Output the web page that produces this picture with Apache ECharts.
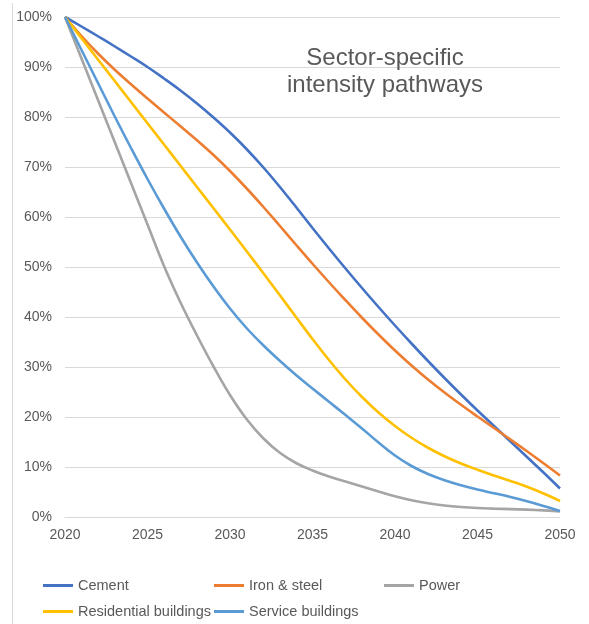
<!DOCTYPE html>
<html>
<head>
    <meta charset="utf-8">
    <title>Sector-specific intensity pathways</title>
    <script src="https://cdn.jsdelivr.net/npm/echarts@6/dist/echarts.min.js"></script>
    <style>
        html, body { margin: 0; padding: 0; background: #fff; }
        #chart { width: 589px; height: 624px; }
    </style>
</head>
<body>
    <div id="chart"></div>
    <script type="text/javascript">
        // values, % of 2020 intensity
        var years = [2020, 2021, 2022, 2023, 2024, 2025, 2026, 2027, 2028, 2029, 2030,
                     2031, 2032, 2033, 2034, 2035, 2036, 2037, 2038, 2039, 2040,
                     2041, 2042, 2043, 2044, 2045, 2046, 2047, 2048, 2049, 2050];
        var cement = [100, 98.1, 96.15, 94.15, 92.1, 90, 87.7, 85.3, 82.7, 79.9, 76.9,
                      73.6, 70.0, 66.1, 62.0, 57.8, 53.7, 49.7, 45.8, 42.0, 38.3,
                      34.7, 31.2, 27.8, 24.5, 21.3, 18.2, 15.1, 12.0, 8.9, 5.7];
        var ironSteel = [100, 96.2, 92.7, 89.5, 86.55, 83.7, 80.9, 78.15, 75.35, 72.4, 69.2,
                         65.75, 62.1, 58.3, 54.45, 50.65, 46.95, 43.35, 39.85, 36.5, 33.3,
                         30.3, 27.5, 24.9, 22.45, 20.1, 17.8, 15.5, 13.15, 10.75, 8.3];
        var power = [100, 91.7, 83.4, 75.1, 66.8, 58.5, 50.2, 42.9, 36.3, 30.1, 24.4,
                     19.6, 15.8, 12.9, 10.8, 9.3, 8.1, 7.1, 6.1, 5.1, 4.15,
                     3.35, 2.75, 2.3, 2.0, 1.8, 1.68, 1.58, 1.48, 1.33, 1.13];
        var residential = [100, 95.75, 91.5, 87.25, 83, 78.75, 74.5, 70.25, 66, 61.75, 57.5,
                           53.2, 48.85, 44.45, 40.0, 35.6, 31.4, 27.5, 24.0, 20.9, 18.2,
                           15.85, 13.85, 12.15, 10.7, 9.45, 8.3, 7.2, 6.05, 4.7, 3.2];
        var service = [100, 93.4, 86.8, 80.2, 73.8, 67.6, 61.7, 56.1, 50.9, 46.1, 41.7,
                       37.8, 34.4, 31.3, 28.4, 25.7, 23.05, 20.4, 17.7, 14.9, 12.3,
                       10.2, 8.6, 7.35, 6.35, 5.5, 4.75, 4.0, 3.15, 2.2, 1.2];
        var yTicks = [0, 10, 20, 30, 40, 50, 60, 70, 80, 90, 100];
        var xTicks = [2020, 2025, 2030, 2035, 2040, 2045, 2050];

        var names = ['Cement', 'Iron & steel', 'Power', 'Residential buildings', 'Service buildings'];
        var values = [cement, ironSteel, power, residential, service];
        var colors = ['#4472C4', '#ED7D31', '#A5A5A5', '#FFC000', '#5B9BD5'];
        var font = 'Liberation Sans, Arial, sans-serif';
        var textColor = '#595959';

        function pairs(vals) {
            return years.map(function (y, i) { return [y, vals[i]]; });
        }

        var series = names.map(function (n, i) {
            return {
                name: n,
                type: 'line',
                data: pairs(values[i]),
                smooth: 0.4,
                showSymbol: false,
                symbol: 'none',
                lineStyle: { width: 2.6, color: colors[i] },
                itemStyle: { color: colors[i] }
            };
        });

        // excel-like legend: fixed columns
        var legendPos = [[43, 578], [214, 578], [384, 578], [43, 604], [214, 604]];
        var legends = names.map(function (n, i) {
            return {
                data: [n],
                left: legendPos[i][0],
                top: legendPos[i][1],
                padding: 0,
                icon: 'rect',
                itemWidth: 30,
                itemHeight: 3,
                textStyle: { fontFamily: font, fontSize: 14.5, color: textColor }
            };
        });

        var chart = echarts.init(document.getElementById('chart'), null, { renderer: 'canvas' });

        var option = {
            animation: false,
            backgroundColor: '#fff',
            title: {
                text: 'Sector-specific\nintensity pathways',
                left: 380,
                top: 40,
                textAlign: 'center',
                textStyle: {
                    fontFamily: font,
                    fontSize: 24,
                    fontWeight: 'normal',
                    color: textColor,
                    lineHeight: 27
                }
            },
            legend: legends,
            grid: { left: 65, right: 29, top: 17, bottom: 107, containLabel: false },
            xAxis: {
                type: 'value',
                min: xTicks[0],
                max: xTicks[xTicks.length - 1],
                interval: 5,
                axisLine: { show: true, lineStyle: { color: '#d9d9d9' } },
                axisTick: { show: false },
                splitLine: { show: false },
                axisLabel: {
                    margin: 11,
                    fontFamily: font,
                    fontSize: 14,
                    color: textColor,
                    formatter: function (v) { return String(v); }
                }
            },
            yAxis: {
                type: 'value',
                min: yTicks[0],
                max: yTicks[yTicks.length - 1],
                interval: 10,
                axisLine: { show: false },
                axisTick: { show: false },
                splitLine: { lineStyle: { color: '#d9d9d9', width: 1 } },
                axisLabel: {
                    margin: 13,
                    fontFamily: font,
                    fontSize: 14,
                    color: textColor,
                    formatter: '{value}%'
                }
            },
            graphic: [{
                type: 'line',
                shape: { x1: 12.5, y1: 3, x2: 12.5, y2: 624 },
                style: { stroke: '#d9d9d9', lineWidth: 1 },
                silent: true
            }],
            series: series
        };

        chart.setOption(option);
    </script>
</body>
</html>
